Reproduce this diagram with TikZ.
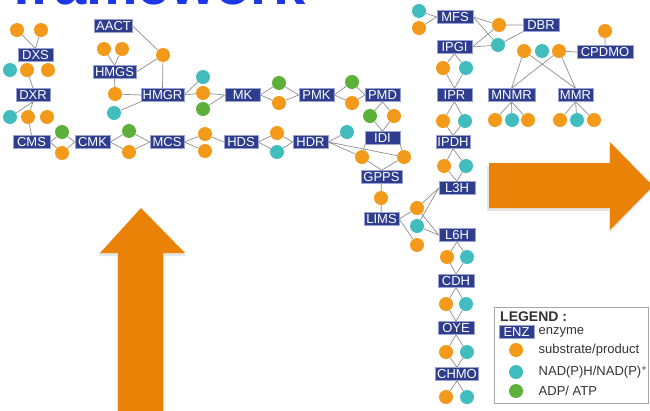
\documentclass[tikz,border=0pt]{standalone}
\usepackage{fontspec}
\setmainfont{Liberation Sans}
\usetikzlibrary{backgrounds}
\definecolor{enzblue}{HTML}{2F3D8E}
\definecolor{enzedge}{HTML}{9AA2CF}
\definecolor{suborange}{HTML}{F39A1B}
\definecolor{nadteal}{HTML}{42BDBD}
\definecolor{atpgreen}{HTML}{5DB13B}
\definecolor{linkgray}{HTML}{8E8E8E}
\definecolor{arroworange}{HTML}{EA8208}
\definecolor{titleblue}{HTML}{1C38E6}
\definecolor{textdark}{HTML}{333333}
\tikzset{
  enz/.style={rectangle, fill=enzblue, draw=enzedge, line width=0.5pt, text=white,
    font=\fontsize{13}{13}\selectfont, inner xsep=1.5pt, inner ysep=0pt,
    minimum height=13pt, minimum width=35pt},
  dot/.style={circle, inner sep=0pt, minimum size=14pt},
  sub/.style={dot, fill=suborange},
  nad/.style={dot, fill=nadteal},
  atp/.style={dot, fill=atpgreen},
  link/.style={draw=linkgray, line width=0.7pt},
  legtext/.style={anchor=west, text=textdark, font=\fontsize{13}{13}\selectfont, inner sep=0pt},
  bigarrow/.style={fill=arroworange},
  arrowshadow/.style={fill=black, opacity=0.10}
}
\begin{document}
\begin{tikzpicture}[x=1pt,y=-1pt]
\useasboundingbox (0,0) rectangle (650,410);
\begin{scope}[on background layer]
\fill[white] (0,0) rectangle (650,410);
\end{scope}
\clip (0,0) rectangle (650,410);

% clipped title
\node[anchor=base west, text=titleblue, inner sep=0pt,
  font=\bfseries\fontsize{58}{60}\selectfont] (title) at (12,4.5) {framework};

% big orange arrows
\fill[arrowshadow] (117,413) -- (117,256) -- (98,256) -- (141,210) -- (186,256) -- (164,256) -- (164,413) -- cycle;
\fill[bigarrow] (118,412) -- (118,253) -- (100,253) -- (141,208) -- (185,253) -- (163,253) -- (163,412) -- cycle;
\fill[arrowshadow] (487,166) -- (609,166) -- (609,145) -- (652,189) -- (609,233) -- (609,211) -- (487,211) -- cycle;
\fill[bigarrow] (489,163) -- (610,163) -- (610,142) -- (653,186) -- (610,230) -- (610,208) -- (489,208) -- cycle;

% ---------- MEP pathway (left column) ----------
\node[sub] (c1) at (17,30) {};
\node[sub] (c2) at (41,30) {};
\node[enz] (dxs) at (35.5,55) {DXS};
\node[nad] (c3) at (10,70) {};
\node[sub] (c4) at (27,70) {};
\node[sub] (c5) at (48,70) {};
\node[enz, minimum width=34pt] (dxr) at (33,95) {DXR};
\node[nad] (c6) at (10,117) {};
\node[sub] (c7) at (28,117) {};
\node[sub] (c8) at (47,117) {};
\node[enz, minimum width=37pt] (cms) at (31.5,142) {CMS};
\node[atp] (c9) at (62,132) {};
\node[sub] (c10) at (62,153) {};
\node[enz] (cmk) at (92.5,142) {CMK};
\node[atp] (c11) at (129,131) {};
\node[sub] (c12) at (129,152) {};
\node[enz, minimum width=34pt] (mcs) at (167,142) {MCS};
\node[sub] (c13) at (205,134) {};
\node[sub] (c14) at (205,151) {};
\node[enz, minimum width=34pt] (hds) at (241,142) {HDS};
\node[sub] (c15) at (277,133) {};
\node[nad] (c16) at (277,152) {};
\node[enz] (hdr) at (310.5,142) {HDR};
\node[nad] (c17) at (347,132) {};
\node[sub] (c18) at (362,157) {};
\node[sub] (c19) at (404,157) {};
\node[enz] (idi) at (382.5,138) {IDI};
\node[enz, minimum width=41pt] (gpps) at (381.5,177) {GPPS};
\node[sub] (c20) at (381,198) {};
\node[enz] (lims) at (381.5,219) {LIMS};
\node[sub] (c21) at (417,208) {};
\node[nad] (c22) at (417,226) {};
\node[sub] (c23) at (417,245) {};

% ---------- MVA pathway ----------
\node[enz, minimum width=37pt] (aact) at (113.5,26) {AACT};
\node[sub] (c24) at (104,49) {};
\node[sub] (c25) at (122,49) {};
\node[enz, minimum width=43pt] (hmgs) at (114.5,72) {HMGS};
\node[sub] (c26) at (163,55) {};
\node[sub] (c27) at (115,94) {};
\node[nad] (c28) at (114,113) {};
\node[enz, minimum width=41pt] (hmgr) at (162.5,95) {HMGR};
\node[nad] (c29) at (203,77) {};
\node[sub] (c30) at (203,93) {};
\node[atp] (c31) at (203,109) {};
\node[enz] (mk) at (242.5,95) {MK};
\node[atp] (c32) at (279,83) {};
\node[sub] (c33) at (279,103) {};
\node[enz] (pmk) at (316.5,95) {PMK};
\node[atp] (c34) at (352,82) {};
\node[sub] (c35) at (352,103) {};
\node[enz] (pmd) at (382.5,95) {PMD};
\node[atp] (c36) at (370,116) {};
\node[sub] (c37) at (394,116) {};

% ---------- right column ----------
\node[nad] (c38) at (419,11) {};
\node[sub] (c39) at (419,28) {};
\node[enz, minimum width=36pt] (mfs) at (455,17) {MFS};
\node[enz] (ipgi) at (454.5,47) {IPGI};
\node[sub] (c40) at (499,25) {};
\node[nad] (c41) at (498,45) {};
\node[sub] (c42) at (443,68) {};
\node[nad] (c43) at (466,68) {};
\node[enz] (ipr) at (454.5,95) {IPR};
\node[sub] (c44) at (443,121) {};
\node[nad] (c45) at (465,121) {};
\node[enz, minimum width=34pt] (ipdh) at (453,142) {IPDH};
\node[sub] (c46) at (444,166) {};
\node[nad] (c47) at (466,166) {};
\node[enz, minimum width=36pt] (l3h) at (457,188) {L3H};
\node[enz, minimum width=36pt] (l6h) at (457,235) {L6H};
\node[sub] (c48) at (447,257) {};
\node[nad] (c49) at (467,257) {};
\node[enz, minimum width=36pt] (cdh) at (456,281) {CDH};
\node[sub] (c50) at (446,304) {};
\node[nad] (c51) at (466,304) {};
\node[enz, minimum width=36pt] (oye) at (456,328) {OYE};
\node[sub] (c52) at (446,352) {};
\node[nad] (c53) at (467,352) {};
\node[enz, minimum width=42pt] (chmo) at (457,374) {CHMO};
\node[sub] (c54) at (446,397) {};
\node[nad] (c55) at (467,397) {};

% ---------- DBR branch ----------
\node[enz, minimum width=36pt] (dbr) at (541,25) {DBR};
\node[sub] (c56) at (524,51) {};
\node[nad] (c57) at (542,51) {};
\node[sub] (c58) at (559,51) {};
\node[sub] (c59) at (605,31) {};
\node[enz, minimum width=56pt] (cpdmo) at (605,52) {CPDMO};
\node[enz, minimum width=47pt] (mnmr) at (511.5,95) {MNMR};
\node[enz] (mmr) at (575.5,95) {MMR};
\node[sub] (c60) at (495,120) {};
\node[nad] (c61) at (512,120) {};
\node[sub] (c62) at (528,120) {};
\node[sub] (c63) at (560,120) {};
\node[nad] (c64) at (577,120) {};
\node[sub] (c65) at (594,120) {};

% ---------- legend ----------
\node[draw=gray!70, line width=0.6pt, fill=white, minimum width=154pt, minimum height=96pt, inner sep=0pt] (legbox) at (571,355) {};
\node[anchor=west, text=textdark, inner sep=0pt, font=\bfseries\fontsize{14}{14}\selectfont] (legtitle) at (500,317) {LEGEND :};
\node[enz] (legenz) at (516.5,332) {ENZ};
\node[legtext] (legenztext) at (538.5,332) {enzyme};
\node[sub] (legsub) at (516,350) {};
\node[legtext] (legsubtext) at (538.5,350) {substrate/product};
\node[nad] (legnad) at (516,372) {};
\node[legtext] (legnadtext) at (538.5,372) {NAD(P)H/NAD(P)\textsuperscript{+}};
\node[atp] (legatp) at (516,391) {};
\node[legtext] (legatptext) at (538.5,391) {ADP/ ATP};

% ---------- connectors ----------
\begin{scope}[on background layer]
\path[link] (c1) -- (dxs.north) (c2) -- (dxs.north);
\path[link] (c4) -- (dxr.north);
\path[link] (dxr.south) -- (c6) (dxr.south) -- (c7);
\path[link] (c7) -- (cms.north);
\path[link] (cms.east) -- (c9) (cms.east) -- (c10) (c9) -- (cmk.west) (c10) -- (cmk.west);
\path[link] (cmk.east) -- (c11) (cmk.east) -- (c12) (c11) -- (mcs.west) (c12) -- (mcs.west);
\path[link] (mcs.east) -- (c13) (mcs.east) -- (c14) (c13) -- (hds.west);
\path[link] (hds.east) -- (c15) (hds.east) -- (c16) (c15) -- (hdr.west) (c16) -- (hdr.west);
\path[link] (hdr.east) -- (c17) (hdr.east) -- (c18) (hdr.east) -- (c19);
\path[link] (c18) -- (idi.south west) (c19) -- (idi.south east);
\path[link] (c18) -- (gpps.north) (c19) -- (gpps.north);
\path[link] (gpps) -- (c20) (c20) -- (lims);
\path[link] (lims.east) -- (c21) (lims.east) -- (c23);
\path[link] (c21) -- (l3h.west) (c21) -- (l6h.west) (c22) -- (l3h.west) (c22) -- (l6h.west);

\path[link] (aact.east) -- (c26) (hmgs.east) -- (c26) (c26) -- (hmgr.north);
\path[link] (c24) -- (hmgs.north) (c25) -- (hmgs.north);
\path[link] (hmgs.south) -- (c27) (c27) -- (hmgr.west) (c28) -- (hmgr.south west);
\path[link] (hmgr.east) -- (c29) (hmgr.east) -- (c30) (c30) -- (mk.west) (c31) -- (mk.west);
\path[link] (mk.east) -- (c32) (mk.east) -- (c33) (c32) -- (pmk.west) (c33) -- (pmk.west);
\path[link] (pmk.east) -- (c34) (pmk.east) -- (c35) (c34) -- (pmd.west) (c35) -- (pmd.west);
\path[link] (pmd.south) -- (c36) (pmd.south) -- (c37) (c36) -- (idi.north) (c37) -- (idi.north);

\path[link] (c38) -- (mfs.west) (c39) -- (mfs.west);
\path[link] (mfs.east) -- (c40) (mfs.east) -- (c41) (ipgi.east) -- (c40) (ipgi.east) -- (c41);
\path[link] (c40) -- (dbr.west) (c41) -- (dbr.south west);
\path[link] (ipgi.south) -- (c42) (ipgi.south) -- (c43) (c42) -- (ipr.north) (c43) -- (ipr.north);
\path[link] (ipr.south) -- (c44) (ipr.south) -- (c45) (c44) -- (ipdh.north) (c45) -- (ipdh.north);
\path[link] (ipdh.south) -- (c46) (ipdh.south) -- (c47) (c46) -- (l3h.north) (c47) -- (l3h.north);
\path[link] (l6h.south) -- (c48) (l6h.south) -- (c49) (c48) -- (cdh.north) (c49) -- (cdh.north);
\path[link] (cdh.south) -- (c50) (cdh.south) -- (c51) (c50) -- (oye.north) (c51) -- (oye.north);
\path[link] (oye.south) -- (c52) (oye.south) -- (c53) (c52) -- (chmo.north) (c53) -- (chmo.north);
\path[link] (chmo.south) -- (c54) (chmo.south) -- (c55);

\path[link] (c58) -- (cpdmo.west) (c59) -- (cpdmo.north);
\path[link] (c56) -- (mnmr.north) (c56) -- (mmr.north) (c58) -- (mnmr.north) (c58) -- (mmr.north);
\path[link] (mnmr.south) -- (c60) (mnmr.south) -- (c61) (mnmr.south) -- (c62);
\path[link] (mmr.south) -- (c63) (mmr.south) -- (c64) (mmr.south) -- (c65);
\end{scope}
\end{tikzpicture}
\end{document}
